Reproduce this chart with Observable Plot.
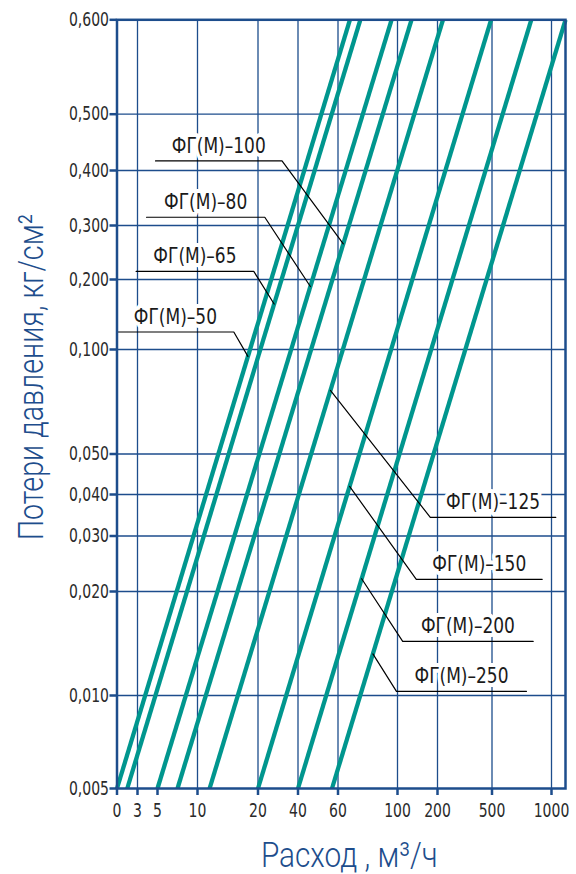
<!DOCTYPE html>
<html>
<head>
<meta charset="utf-8">
<script src="https://cdn.jsdelivr.net/npm/d3@7"></script>
<script src="https://cdn.jsdelivr.net/npm/@observablehq/plot@0.6"></script>
<style>
  body { margin: 0; background: #fff; }
  #chart svg { display: block; }
</style>
</head>
<body>
<div id="chart"></div>
<script>
// Flow axis (m³/h): labelled ticks and the vertical grid positions
const flowTicks = [0, 3, 5, 10, 20, 40, 60, 100, 200, 500, 1000];
const flowGrid = [3, 10, 20, 40, 60, 100, 200, 500, 1000];
const flowAxisEnd = 1120;

// Pressure-loss axis (kg/cm²)
const lossTicks = [0.005, 0.01, 0.02, 0.03, 0.04, 0.05, 0.1, 0.2, 0.3, 0.4, 0.5, 0.6];
const lossGrid = [0.01, 0.02, 0.03, 0.04, 0.05, 0.1, 0.2, 0.3, 0.4, 0.5];
const lossRange = [0.005, 0.6];

// Filter models and the flow at the lowest / highest plotted loss
const models = ["ФГ(М)–50", "ФГ(М)–65", "ФГ(М)–80", "ФГ(М)–100",
                "ФГ(М)–125", "ФГ(М)–150", "ФГ(М)–200", "ФГ(М)–250"];
const flowAtMinLoss = [0, 1.5, 5, 7.5, 12, 20, 40, 57];
const flowAtMaxLoss = [68, 75, 96, 135, 230, 495, 830, 1120];

// Callouts: loss where the leader touches the curve, shelf height, shelf ends
const leaderLoss = [0.0967, 0.165, 0.19, 0.266, 0.0804, 0.042, 0.0223, 0.014];
const shelfLoss = [0.125, 0.215, 0.315, 0.417, 0.0345, 0.0222, 0.0152, 0.0104];
const shelfKneeFlow = [16, 19.3, 23.4, 32, 182, 147, 113, 99.3];
const shelfEndFlow = [0, 2.8, 3.9, 4.8, 1037, 922, 846, 790];

const xTitle = "Расход , м³/ч";
const yTitle = "Потери давления, кг/см²";

const W = 576, H = 874;
const blue = "#1d4d8c";
const teal = "#00968e";
const font = "'DejaVu Sans Condensed', 'DejaVu Sans', sans-serif";
const lightFont = "Roboto, 'DejaVu Sans', sans-serif";

// The nomogram axes are drawn on piecewise (hand-graduated) scales
const xOpts = {
  type: "linear",
  domain: [...flowTicks, flowAxisEnd],
  range: [116.5, 137, 157, 197, 257.5, 297.5, 337.5, 397, 437, 491.5, 551, 565]
};
const yOpts = {
  type: "linear",
  domain: lossTicks,
  range: [788, 695, 591, 535.5, 494, 453.5, 349, 279, 225, 170, 113.7, 19.3]
};
const X = Plot.scale({x: xOpts});
const Y = Plot.scale({y: yOpts});

// Each characteristic is a straight segment on the nomogram
const curves = models.flatMap((model, i) => [
  {model, flow: flowAtMinLoss[i], loss: lossRange[0]},
  {model, flow: flowAtMaxLoss[i], loss: lossRange[1]}
]);

// Flow on curve i at a given loss (the curves are straight in chart space)
function flowOnCurve(i, loss) {
  const y0 = Y.apply(lossRange[0]), y1 = Y.apply(lossRange[1]);
  const s = (Y.apply(loss) - y0) / (y1 - y0);
  const x0 = X.apply(flowAtMinLoss[i]), x1 = X.apply(flowAtMaxLoss[i]);
  return X.invert(x0 + s * (x1 - x0));
}

const leaders = models.flatMap((model, i) => [
  {model, flow: flowOnCurve(i, leaderLoss[i]), loss: leaderLoss[i]},
  {model, flow: shelfKneeFlow[i], loss: shelfLoss[i]},
  {model, flow: shelfEndFlow[i], loss: shelfLoss[i]}
]);

const labels = models.map((model, i) => ({
  model,
  flow: X.invert((X.apply(shelfKneeFlow[i]) + X.apply(shelfEndFlow[i])) / 2),
  loss: shelfLoss[i]
}));

const fmtLoss = d => d3.format(".3f")(d).replace(".", ",");

const chart = Plot.plot({
  width: W,
  height: H,
  marginLeft: 116.5,
  marginRight: 11,
  marginTop: 19.3,
  marginBottom: 86,
  style: {fontFamily: font, background: "#fff"},
  x: xOpts,
  y: yOpts,
  marks: [
    Plot.gridX(flowGrid, {stroke: blue, strokeOpacity: 1, strokeWidth: 1.3}),
    Plot.gridY(lossGrid, {stroke: blue, strokeOpacity: 1, strokeWidth: 1.3}),
    Plot.text(labels, {
      x: "flow", y: "loss", text: "model",
      lineAnchor: "bottom", textAnchor: "middle", dy: -8,
      fontSize: 21.5, fill: "#1a1a1a", stroke: "#fff", strokeWidth: 8
    }),
    Plot.line(curves, {x: "flow", y: "loss", z: "model", stroke: teal, strokeWidth: 4.3, strokeLinecap: "butt"}),
    Plot.line(leaders, {x: "flow", y: "loss", z: "model", stroke: "#000", strokeWidth: 1.2}),
    Plot.frame({stroke: blue, strokeWidth: 2.5}),
    Plot.axisY(lossTicks, {
      tickSize: 7, tickPadding: 1, tickFormat: fmtLoss, label: null,
      stroke: blue, strokeWidth: 2.5, fill: "#2b2b2b", fontSize: 19
    }),
    Plot.axisX(flowTicks, {
      tickSize: 7, tickPadding: 8, tickFormat: d => String(d), label: null,
      stroke: blue, strokeWidth: 2.5, fill: "#2b2b2b", fontSize: 19
    }),
    Plot.text([xTitle], {
      text: d => d, frameAnchor: "bottom", textAnchor: "middle", dx: 8, dy: 78,
      lineAnchor: "bottom", fontSize: 35, fontFamily: lightFont, fontWeight: 300,
      fill: blue
    }),
    Plot.text([yTitle], {
      text: d => d, frameAnchor: "left", textAnchor: "middle", rotate: -90,
      dx: -74.5, dy: -27, lineAnchor: "bottom", fontSize: 35,
      fontFamily: lightFont, fontWeight: 300, fill: blue
    })
  ]
});

// Narrow the lettering to a drafting-style condensed width
function squeeze(node, k) {
  const t = node.getAttribute("transform") || "";
  node.setAttribute("transform", `${t} scale(${k},1)`);
}
d3.select(chart)
  .selectAll("g[aria-label='y-axis tick label'] text, g[aria-label='x-axis tick label'] text")
  .each(function () { squeeze(this, 0.82); });
d3.select(chart).selectAll("g[aria-label='text'] text").each(function () {
  const s = this.textContent;
  if (models.includes(s)) squeeze(this, 0.88);
  else if (s === xTitle) squeeze(this, 0.85);
  else if (s === yTitle) squeeze(this, 0.82);
});

document.getElementById("chart").appendChild(chart);
</script>
</body>
</html>
